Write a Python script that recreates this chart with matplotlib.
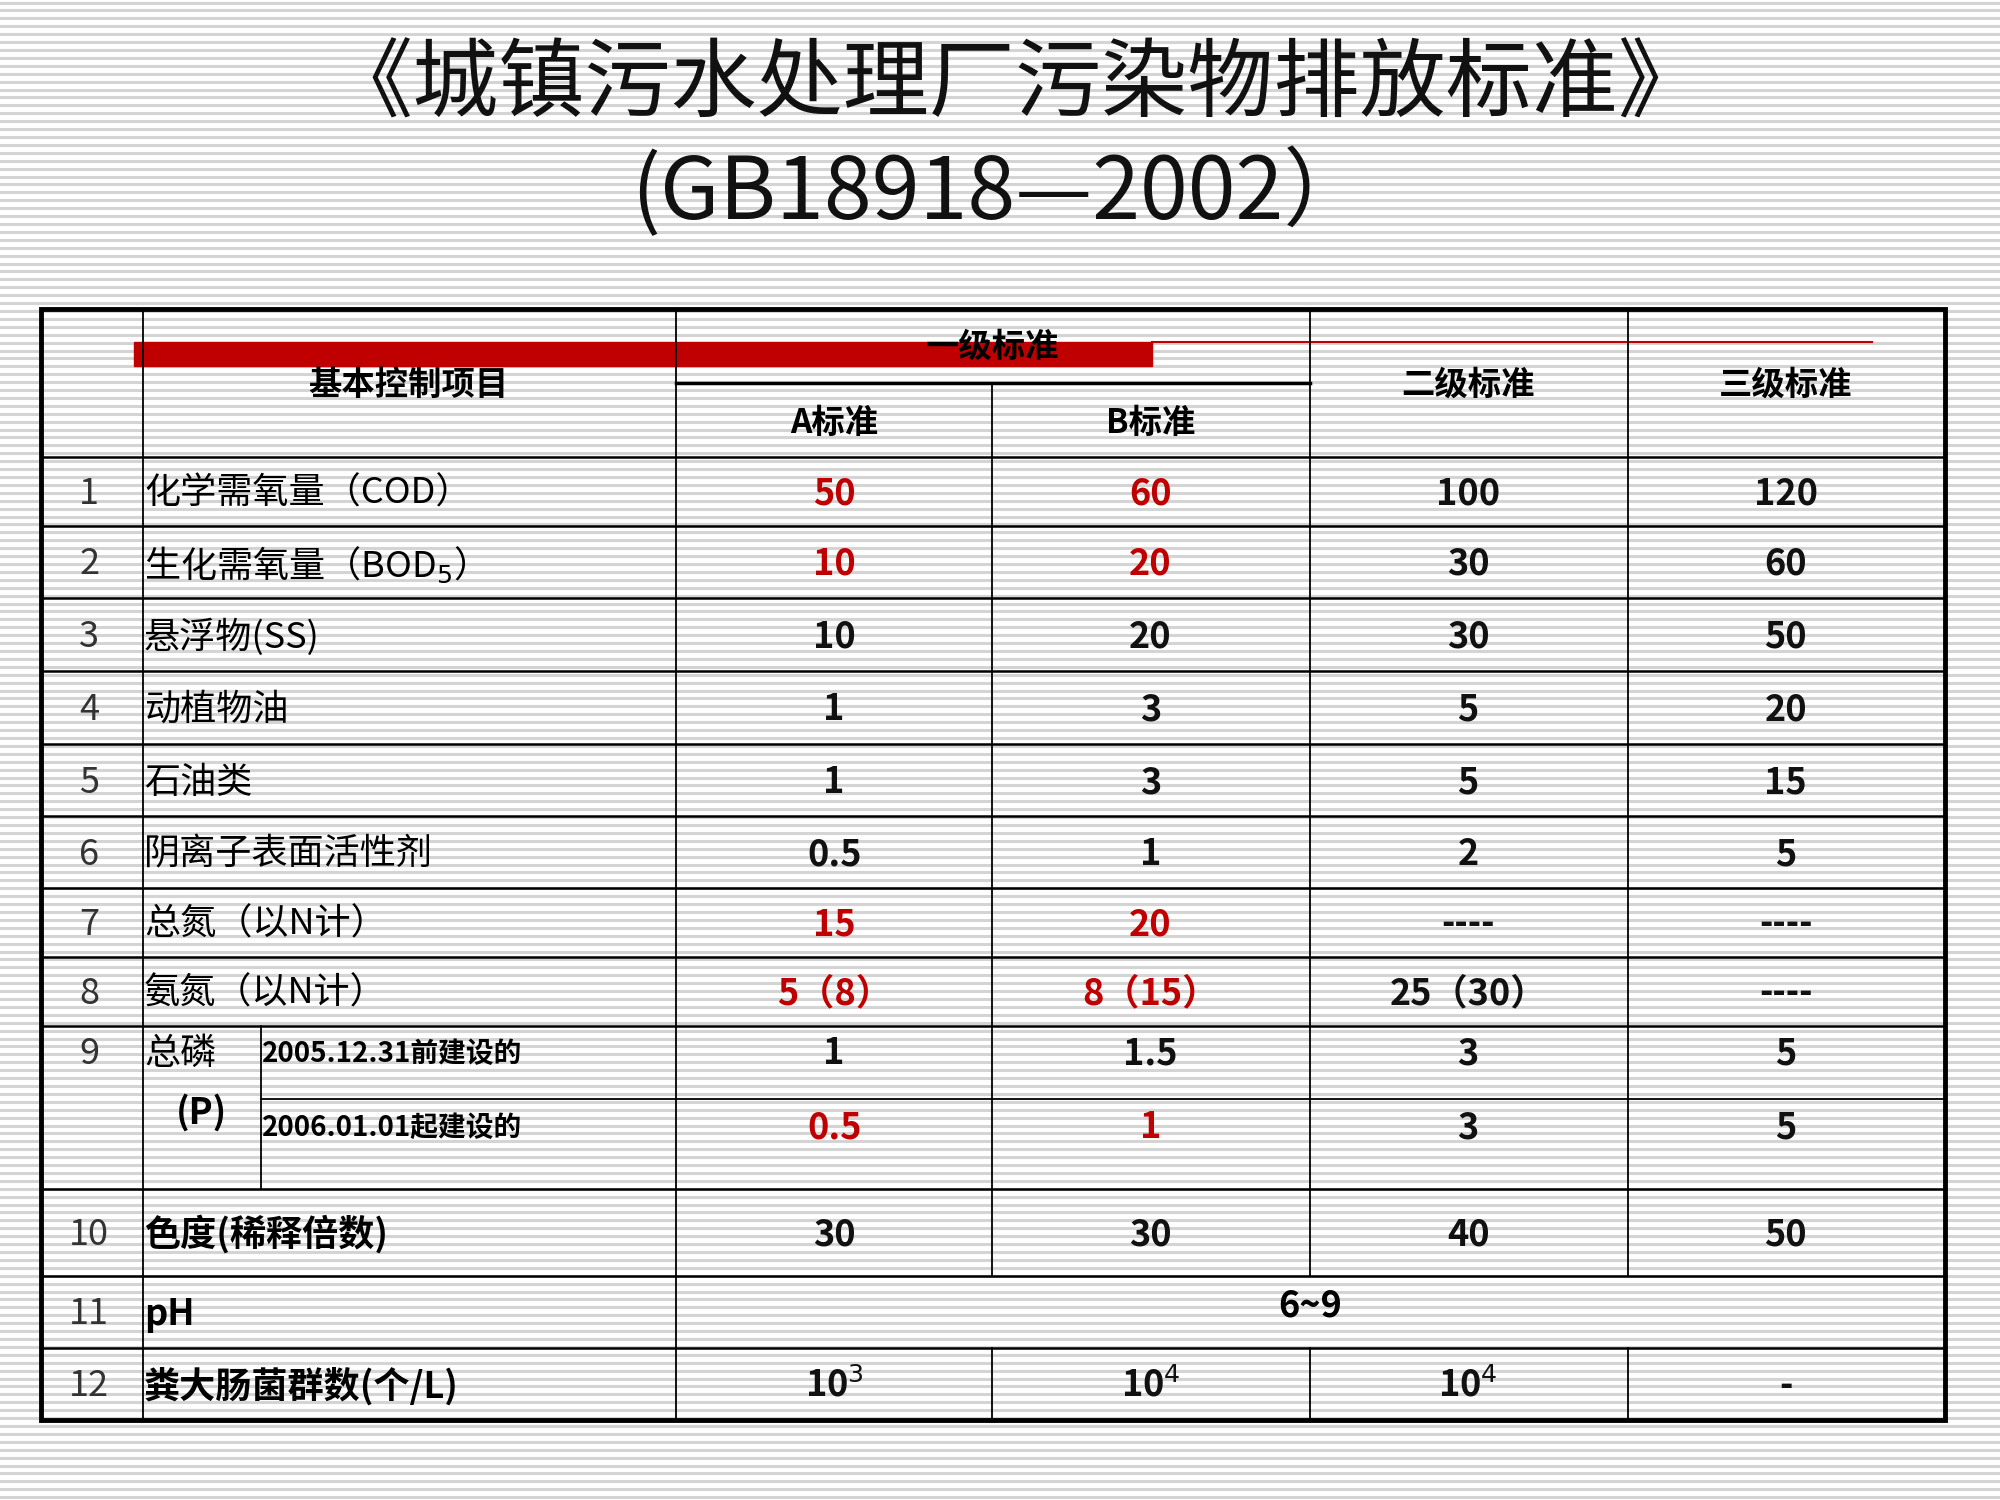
import matplotlib
import numpy as np

matplotlib.use("Agg")

from matplotlib import patches, pyplot as plt  # noqa: E402

plt.rcParams["font.family"] = ["Noto Sans CJK SC", "DejaVu Sans"]

RED = "#c00000"

title_lines = ["《城镇污水处理厂污染物排放标准》", "(GB18918—2002）"]
header_item = "基本控制项目"
header_level1 = "一级标准"
header_sub = ["A标准", "B标准"]
header_levels = ["二级标准", "三级标准"]

row_numbers = ["1", "2", "3", "4", "5", "6", "7", "8", "9", "", "10", "11", "12"]
row_items = [
    "化学需氧量（COD）", "生化需氧量（BOD$_5$）", "悬浮物(SS)", "动植物油", "石油类",
    "阴离子表面活性剂", "总氮（以N计）", "氨氮（以N计）",
    "2005.12.31前建设的", "2006.01.01起建设的", "色度(稀释倍数)", "pH", "粪大肠菌群数(个/L)",
]
col_a = ["50", "10", "10", "1", "1", "0.5", "15", "5（8）", "1", "0.5", "30", "", "10$^3$"]
col_b = ["60", "20", "20", "3", "3", "1", "20", "8（15）", "1.5", "1", "30", "", "10$^4$"]
col_2 = ["100", "30", "30", "5", "5", "2", "----", "25（30）", "3", "3", "40", "", "10$^4$"]
col_3 = ["120", "60", "50", "20", "15", "5", "----", "----", "5", "5", "50", "", "-"]
red_a = [True, True, False, False, False, False, True, True, False, True, False, False, False]
red_b = red_a
bold_items = [False] * 10 + [True, True, True]

# layout in display pixel units of a 1568 x 1176 canvas
col_x = [32, 112, 530, 778, 1027, 1276, 1525]
row_y = [358, 412, 469, 526, 583, 640, 696, 750, 804, 862, 932, 1000, 1057, 1113]

fig = plt.figure(figsize=(20, 15), dpi=100)
ax = fig.add_axes([0, 0, 1, 1])
ax.set_xlim(0, 1568)
ax.set_ylim(1176, 0)
ax.set_axis_off()

for y in np.arange(2, 1176, 6.2):
    ax.axhline(y, color="#d4d4d4", linewidth=2.2, zorder=0)

ax.text(796, 68, title_lines[0], fontsize=62, ha="center", va="center", color="#111111")
ax.text(784, 152, title_lines[1], fontsize=62, ha="center", va="center", color="#111111")

top, bottom = 242, row_y[-1]
ax.add_patch(patches.Rectangle((col_x[0], top), col_x[-1] - col_x[0], bottom - top,
                               fill=False, edgecolor="black", linewidth=3.5, zorder=3))
for x in col_x[1:-1]:
    y0 = 300 if x == 778 else top
    if x == 112:
        ax.plot([x, x], [y0, bottom], color="black", linewidth=1.3, zorder=3)
    else:
        ax.plot([x, x], [y0, row_y[11]], color="black", linewidth=1.3, zorder=3)
        if x == 530:
            ax.plot([x, x], [row_y[11], bottom], color="black", linewidth=1.3, zorder=3)
        else:
            ax.plot([x, x], [row_y[12], bottom], color="black", linewidth=1.3, zorder=3)
ax.plot([530, 1027], [300, 300], color="black", linewidth=2.5, zorder=3)
for i, y in enumerate(row_y[:-1]):
    if i == 9:
        ax.plot([205, col_x[-1]], [y, y], color="black", linewidth=1.3, zorder=3)
    else:
        ax.plot([col_x[0], col_x[-1]], [y, y], color="black", linewidth=1.8, zorder=3)
ax.plot([205, 205], [row_y[8], row_y[10]], color="black", linewidth=1.3, zorder=3)

# red bars in header
ax.add_patch(patches.Rectangle((105, 268), 798, 19, color=RED, zorder=2))
ax.plot([903, 1468], [268, 268], color=RED, linewidth=1.5, zorder=2)

hfs = 24
ax.text(320, 302, header_item, fontsize=hfs, ha="center", va="center", zorder=4,
        fontweight="bold")
ax.text(778, 272, header_level1, fontsize=hfs, ha="center", va="center", zorder=4,
        fontweight="bold")
ax.text(654, 332, header_sub[0], fontsize=hfs, ha="center", va="center", zorder=4,
        fontweight="bold")
ax.text(902, 332, header_sub[1], fontsize=hfs, ha="center", va="center", zorder=4,
        fontweight="bold")
ax.text(1151, 302, header_levels[0], fontsize=hfs, ha="center", va="center", zorder=4,
        fontweight="bold")
ax.text(1400, 302, header_levels[1], fontsize=hfs, ha="center", va="center", zorder=4,
        fontweight="bold")

fs = 26
for i in range(len(row_items)):
    yc = (row_y[i] + row_y[i + 1]) / 2 + 2
    if i == 8:
        yc = row_y[i] + 22
    elif i == 9:
        yc = row_y[i] + 22
    ax.text(70, yc, row_numbers[i], fontsize=fs, ha="center", va="center", color="#333333")
    if i in (8, 9):
        ax.text(205, yc, row_items[i], fontsize=20, ha="left", va="center", fontweight="bold")
    else:
        ax.text(113, yc, row_items[i], fontsize=fs, ha="left", va="center",
                fontweight="bold" if bold_items[i] else "medium")
    for cx, vals, reds in (
        (654, col_a, red_a), (902, col_b, red_b), (1151, col_2, None), (1400, col_3, None)
    ):
        color = RED if reds is not None and reds[i] else "#111111"
        ax.text(cx, yc, vals[i], fontsize=fs, ha="center", va="center",
                fontweight="bold", color=color)
ax.text(113, 826, "总磷", fontsize=fs, ha="left", va="center", fontweight="medium")
ax.text(158, 872, "(P)", fontsize=fs, ha="center", va="center", fontweight="bold")
ax.text(1027, 1024, "6~9", fontsize=fs, ha="center", va="center", fontweight="bold")

fig.savefig("out.png", dpi=100)
